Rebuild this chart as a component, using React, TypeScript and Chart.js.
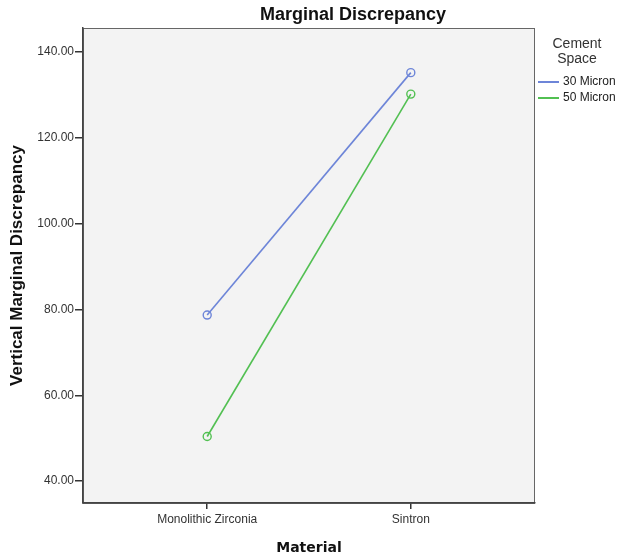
import React, { useEffect, useRef } from "react";
import { Chart, registerables } from "chart.js";

Chart.register(...registerables);

const chartTitle = "Marginal Discrepancy";
const xTitle = "Material";
const yTitle = "Vertical Marginal Discrepancy";
const legendTitle = ["Cement", "Space"];
const categories = ["Monolithic Zirconia", "Sintron"];
const seriesLabels = ["30 Micron", "50 Micron"];
const series30 = [78.7, 135.2];
const series50 = [50.4, 130.2];
const yTicks = [40, 60, 80, 100, 120, 140];
const seriesColors = ["#6d85d8", "#52c052"];

export default function App() {
  const ref = useRef<HTMLCanvasElement | null>(null);

  useEffect(() => {
    if (!ref.current) return;
    const allSeries = [series30, series50];
    const decor = {
      id: "decor",
      beforeDraw(chart: any) {
        const { ctx, chartArea: a } = chart;
        ctx.save();
        ctx.fillStyle = "#f3f3f3";
        ctx.fillRect(a.left, a.top, a.right - a.left, a.bottom - a.top);
        ctx.strokeStyle = "#666666";
        ctx.lineWidth = 1;
        ctx.strokeRect(a.left + 0.5, a.top + 0.5, a.right - a.left - 1, a.bottom - a.top);
        ctx.restore();
      },
      afterDraw(chart: any) {
        const { ctx, chartArea: a } = chart;
        ctx.save();
        // title
        ctx.fillStyle = "#111111";
        ctx.textAlign = "center";
        ctx.textBaseline = "middle";
        ctx.font = "bold 18px 'Liberation Sans', Arial, sans-serif";
        ctx.fillText(chartTitle, 353, 15);
        // axis titles
        ctx.font = "bold 14px 'DejaVu Sans', sans-serif";
        ctx.fillText(xTitle, (a.left + a.right) / 2, 548);
        ctx.save();
        ctx.translate(17, (a.top + a.bottom) / 2);
        ctx.rotate(-Math.PI / 2);
        ctx.font = "bold 17px 'Liberation Sans', Arial, sans-serif";
        ctx.fillText(yTitle, 0, 0);
        ctx.restore();
        // legend
        ctx.fillStyle = "#333333";
        ctx.font = "14px 'Liberation Sans', Arial, sans-serif";
        legendTitle.forEach((t, i) => ctx.fillText(t, 577, 44 + i * 15));
        ctx.textAlign = "left";
        ctx.font = "12px 'Liberation Sans', Arial, sans-serif";
        chart.data.datasets.forEach((ds: any, i: number) => {
          const y = 82 + i * 16;
          ctx.strokeStyle = ds.borderColor;
          ctx.lineWidth = 2;
          ctx.beginPath();
          ctx.moveTo(538, y);
          ctx.lineTo(559, y);
          ctx.stroke();
          ctx.fillStyle = "#222222";
          ctx.fillText(ds.label, 563, y);
        });
        ctx.restore();
      },
    };

    const chart = new Chart(ref.current, {
      type: "line",
      data: {
        datasets: allSeries.map((s, i) => ({
          label: seriesLabels[i],
          data: s.map((v, j) => ({ x: j, y: v })),
          borderColor: seriesColors[i],
          backgroundColor: "rgba(0,0,0,0)",
          borderWidth: 1.6,
          pointRadius: 4,
          pointBorderWidth: 1.4,
          pointBackgroundColor: "rgba(0,0,0,0)",
          pointBorderColor: seriesColors[i],
          tension: 0,
        })),
      },
      options: {
        responsive: false,
        animation: false,
        layout: { padding: { top: 28, right: 84, left: 0, bottom: 0 } },
        plugins: {
          legend: { display: false },
          title: { display: false },
          tooltip: { enabled: false },
        },
        scales: {
          x: {
            type: "linear",
            min: -0.61,
            max: 1.61,
            afterBuildTicks: (s: any) => {
              s.ticks = categories.map((_, i) => ({ value: i }));
            },
            afterFit: (s: any) => {
              s.height = 55;
            },
            grid: { drawOnChartArea: false, tickLength: 6, color: "#333333", lineWidth: 1.5 },
            border: { display: true, color: "#444444", width: 1.5 },
            ticks: {
              callback: (v: any) => categories[v] ?? "",
              font: { family: "'Liberation Sans', Arial, sans-serif", size: 12 },
              color: "#333333",
              padding: 3,
              maxRotation: 0,
              autoSkip: false,
            },
          },
          y: {
            min: 34.9,
            max: 145.6,
            afterBuildTicks: (s: any) => {
              s.ticks = yTicks.map((v) => ({ value: v }));
            },
            afterFit: (s: any) => {
              s.width = 83;
            },
            grid: { drawOnChartArea: false, tickLength: 8, color: "#333333", lineWidth: 1.5 },
            border: { display: true, color: "#444444", width: 1.5 },
            ticks: {
              callback: (v: any) => Number(v).toFixed(2),
              font: { family: "'Liberation Sans', Arial, sans-serif", size: 12 },
              color: "#333333",
              padding: 1,
            },
          },
        },
      },
      plugins: [decor],
    });
    return () => chart.destroy();
  }, []);

  return (
    <div style={{ position: "absolute", left: 0, top: 0, width: 619, height: 558, background: "#ffffff" }}>
      <canvas ref={ref} width={619} height={558} style={{ display: "block" }} />
    </div>
  );
}
